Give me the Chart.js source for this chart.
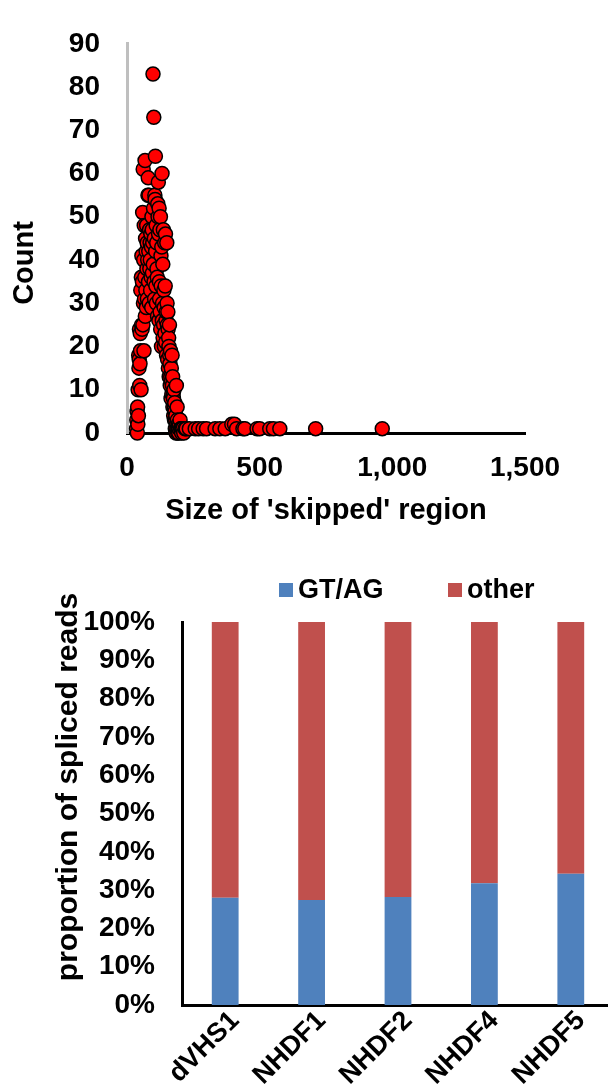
<!DOCTYPE html>
<html>
<head>
<meta charset="utf-8">
<script src="https://cdn.jsdelivr.net/npm/chart.js@4/dist/chart.umd.min.js"></script>
<style>
  html, body { margin: 0; padding: 0; background: #fff; overflow: hidden; width: 608px; height: 1084px; }
  #scatter { position: absolute; left: 0; top: 0; }
  #bars { position: absolute; left: 0; top: 550px; }
</style>
</head>
<body>
<canvas id="scatter" width="608" height="550"></canvas>
<canvas id="bars" width="640" height="534"></canvas>
<script>
// Length of the skipped region (x) and how many reads showed it (y)
const skippedSize = [
  36, 37, 38, 39, 40, 41, 42, 43, 44, 45, 46, 47, 48, 49, 50, 51, 52, 53, 54, 55,
  56, 57, 58, 59, 60, 61, 62, 63, 64, 65, 66, 67, 68, 69, 70, 71, 72, 73, 74, 75,
  76, 77, 78, 79, 80, 81, 82, 83, 84, 85, 86, 87, 88, 89, 90, 91, 92, 93, 94, 95,
  96, 97, 98, 99, 100, 101, 102, 103, 104, 105, 106, 107, 108, 109, 110, 111, 112, 113, 114, 115,
  116, 117, 118, 119, 120, 121, 122, 123, 124, 125, 126, 127, 128, 129, 130, 131, 132, 133, 134, 135,
  136, 137, 138, 139, 140, 141, 142, 143, 144, 145, 146, 147, 148, 149, 150, 151, 152, 153, 154, 155,
  156, 157, 158, 159, 160, 161, 162, 163, 164, 165, 166, 167, 168, 169, 170, 171, 172, 173, 174, 175,
  176, 177, 178, 179, 180, 181, 182, 183, 184, 185, 186, 187, 188, 189, 190, 191, 192, 193, 194, 195,
  196, 198, 200, 202, 204, 206, 208, 211, 214, 219,
  223, 235, 257, 270, 287, 300, 332, 350, 370, 395, 405, 413, 437, 444, 490, 500, 538, 552, 576, 711, 962
];
const readCount = [
  1, 3, 5, 0, 6, 2, 10, 4, 18, 15, 17, 24, 11, 16, 23, 19, 33, 10, 36, 25,
  41, 24, 35, 51, 25, 61, 30, 40, 19, 48, 31, 36, 63, 27, 45, 33, 42, 29, 48, 38,
  44, 31, 40, 55, 59, 35, 42, 55, 30, 47, 38, 44, 40, 33, 46, 36, 43, 29, 50, 47,
  37, 44, 83, 39, 52, 73, 35, 45, 31, 55, 54, 64, 42, 34, 48, 30, 44, 38, 36, 27,
  53, 50, 58, 46, 26, 52, 35, 31, 47, 28, 50, 24, 41, 34, 20, 43, 60, 26, 30, 39,
  22, 47, 25, 33, 29, 20, 44, 23, 34, 46, 21, 26, 28, 18, 44, 30, 25, 17, 28, 24,
  15, 22, 20, 13, 25, 18, 16, 11, 19, 13, 8, 15, 12, 9, 18, 11, 13, 6, 9, 8,
  4, 10, 6, 3, 7, 5, 1, 3, 4, 0, 11, 2, 1, 6, 3, 0, 1, 2, 1, 0,
  1, 2, 3, 1, 1, 0, 1, 1, 0, 1,
  1, 1, 1, 1, 1, 1, 1, 1, 1, 2, 2, 1, 1, 1, 1, 1, 1, 1, 1, 1, 1
];
const sizeTicks = [0, 500, 1000, 1500];
const countTicks = [0, 10, 20, 30, 40, 50, 60, 70, 80, 90];

// Share of spliced reads per sample, by splice-site motif (%)
const samples = ['dVHS1', 'NHDF1', 'NHDF2', 'NHDF4', 'NHDF5'];
const gtagShare = [28.0, 27.4, 28.2, 31.8, 34.3];
const otherShare = [72.0, 72.6, 71.8, 68.2, 65.7];
const percentTicks = [0, 10, 20, 30, 40, 50, 60, 70, 80, 90, 100];

const FONT = "'Liberation Sans', Arial, sans-serif";
Chart.defaults.font.family = FONT;
Chart.defaults.font.weight = 'bold';
Chart.defaults.color = '#000';

// Rotated axis caption placed at a fixed spot beside the plot
const sideTitle = {
  id: 'sideTitle',
  afterDraw(chart, args, opts) {
    const ctx = chart.ctx;
    ctx.save();
    ctx.font = `bold ${opts.size}px ${FONT}`;
    ctx.fillStyle = '#000';
    ctx.textAlign = 'center';
    ctx.textBaseline = 'alphabetic';
    ctx.translate(opts.x, opts.y);
    ctx.rotate(-Math.PI / 2);
    ctx.fillText(opts.text, 0, 0);
    ctx.restore();
  }
};

// Square-swatch legend drawn from the dataset labels and colours
const boxLegend = {
  id: 'boxLegend',
  afterDraw(chart, args, opts) {
    const ctx = chart.ctx;
    ctx.save();
    ctx.font = `bold ${opts.size}px ${FONT}`;
    ctx.textAlign = 'left';
    ctx.textBaseline = 'middle';
    chart.data.datasets.forEach((ds, i) => {
      const x = opts.x[i];
      ctx.fillStyle = ds.backgroundColor;
      ctx.fillRect(x, opts.y - opts.box / 2, opts.box, opts.box);
      ctx.fillStyle = '#000';
      ctx.fillText(ds.label, x + opts.box + opts.gap, opts.y + 1);
    });
    ctx.restore();
  }
};

new Chart(document.getElementById('scatter'), {
  type: 'scatter',
  data: {
    datasets: [{
      data: skippedSize.map((s, i) => ({ x: s, y: readCount[i] })),
      backgroundColor: '#FF0000',
      borderColor: '#000000',
      borderWidth: 1.5,
      pointRadius: 7,
      pointHoverRadius: 7,
      clip: false
    }]
  },
  options: {
    responsive: false,
    animation: false,
    events: [],
    layout: { padding: { left: 0, top: 25, right: 83, bottom: 0 } },
    plugins: {
      legend: { display: false },
      tooltip: { enabled: false },
      sideTitle: { text: 'Count', x: 33, y: 263, size: 29 }
    },
    scales: {
      x: {
        type: 'linear',
        min: 0,
        max: 1500,
        afterBuildTicks: s => { s.ticks = sizeTicks.map(v => ({ value: v })); },
        afterFit: s => { s.height = 117; },
        grid: { display: false, drawTicks: false },
        border: { display: true, color: '#000', width: 3 },
        ticks: {
          padding: 18,
          maxRotation: 0,
          autoSkip: false,
          color: '#000',
          font: { size: 28, weight: 'bold' },
          callback: v => v.toLocaleString('en-US')
        },
        title: {
          display: true,
          text: "Size of 'skipped' region",
          color: '#000',
          font: { size: 29, weight: 'bold' },
          padding: { top: 0, bottom: 22 }
        }
      },
      y: {
        min: 0,
        max: 90,
        afterBuildTicks: s => { s.ticks = countTicks.map(v => ({ value: v })); },
        afterFit: s => { s.width = 127; },
        grid: { display: false, drawTicks: false },
        border: { display: true, color: '#BFBFBF', width: 3 },
        ticks: {
          padding: 27,
          color: '#000',
          font: { size: 28, weight: 'bold' }
        }
      }
    }
  },
  plugins: [sideTitle]
});

new Chart(document.getElementById('bars'), {
  type: 'bar',
  data: {
    labels: samples,
    datasets: [
      { label: 'GT/AG', data: gtagShare, backgroundColor: '#4F81BD' },
      { label: 'other', data: otherShare, backgroundColor: '#C0504D' }
    ]
  },
  options: {
    responsive: false,
    animation: false,
    events: [],
    layout: { padding: { left: 0, top: 72, right: 26, bottom: 0 } },
    datasets: { bar: { barPercentage: 0.62, categoryPercentage: 0.5 } },
    plugins: {
      legend: { display: false },
      tooltip: { enabled: false },
      boxLegend: { x: [279, 448], y: 40, box: 14, gap: 5, size: 27 },
      sideTitle: { text: 'proportion of spliced reads', x: 77, y: 237, size: 30 }
    },
    scales: {
      x: {
        stacked: true,
        afterFit: s => { s.height = 79; },
        grid: { display: false, drawTicks: false },
        border: { display: true, color: '#000', width: 3 },
        ticks: {
          padding: 0,
          labelOffset: 10,
          autoSkip: false,
          minRotation: 45,
          maxRotation: 45,
          color: '#000',
          font: { size: 27, weight: 'bold' }
        }
      },
      y: {
        stacked: true,
        min: 0,
        max: 100,
        afterBuildTicks: s => { s.ticks = percentTicks.map(v => ({ value: v })); },
        afterFit: s => { s.width = 182; },
        grid: { display: false, drawTicks: false },
        border: { display: true, color: '#000', width: 3 },
        ticks: {
          padding: 27,
          color: '#000',
          font: { size: 28, weight: 'bold' },
          callback: v => v + '%'
        }
      }
    }
  },
  plugins: [boxLegend, sideTitle]
});
</script>
</body>
</html>
